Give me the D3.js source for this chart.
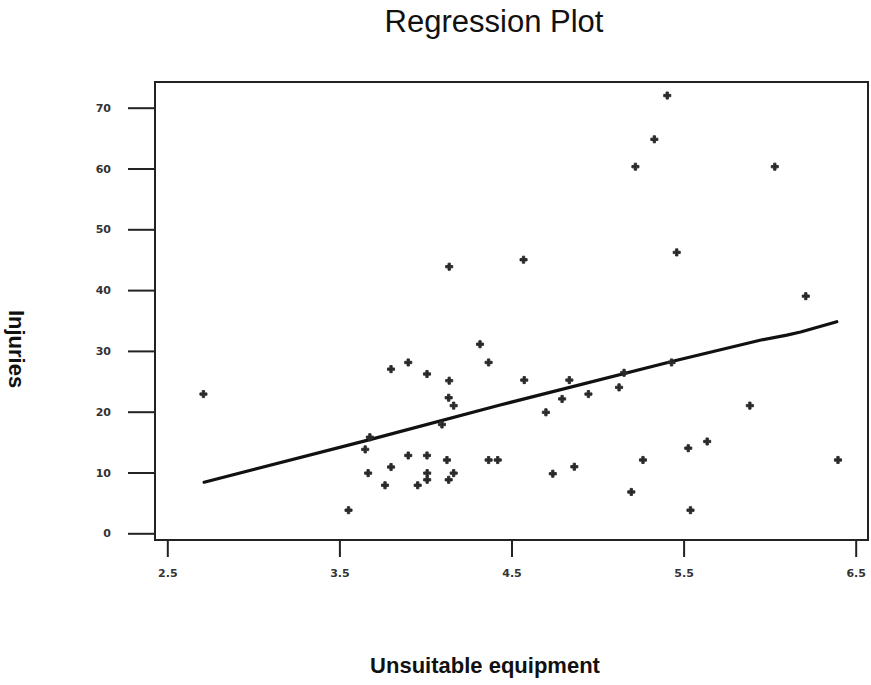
<!DOCTYPE html>
<html>
<head>
<meta charset="utf-8">
<script src="https://cdn.jsdelivr.net/npm/d3@7"></script>
<style>
  html, body { margin: 0; padding: 0; background: #fff; }
  svg { display: block; }
</style>
</head>
<body>
<svg id="chart" width="871" height="685"></svg>
<script>
// ---- data ----
const equipment = [2.71, 3.553, 3.65, 3.677, 3.667, 3.765, 3.80, 3.80, 3.90, 3.90, 3.955, 4.009, 4.009, 4.01, 4.01,
  4.096, 4.125, 4.135, 4.164, 4.138, 4.135, 4.164, 4.138, 4.317, 4.367, 4.367, 4.42, 4.574, 4.57, 4.70,
  4.74, 4.794, 4.836, 4.865, 4.947, 5.125, 5.154, 5.196, 5.22, 5.264, 5.33, 5.405, 5.43, 5.46, 5.527,
  5.54, 5.637, 5.885, 6.03, 6.21, 6.397];
const injuries = [22.9, 3.8, 13.8, 15.8, 9.9, 7.9, 10.9, 27.0, 28.1, 12.8, 7.9, 26.2, 12.8, 9.9, 8.8,
  17.9, 12.05, 8.8, 9.9, 25.1, 22.3, 21.0, 43.85, 31.1, 28.1, 12.05, 12.05, 25.2, 45.0, 19.9,
  9.8, 22.1, 25.2, 10.95, 22.9, 24.0, 26.4, 6.8, 60.3, 12.06, 64.8, 72.0, 28.1, 46.2, 14.0,
  3.8, 15.1, 21.0, 60.3, 39.0, 12.06];
const fitX = [2.714, 3.677, 4.434, 5.437, 5.95, 6.1, 6.18, 6.39];
const fitY = [8.4, 15.4, 21.1, 28.3, 31.8, 32.6, 33.1, 34.8];
const xTicks = [2.5, 3.5, 4.5, 5.5, 6.5];
const yTicks = [0, 10, 20, 30, 40, 50, 60, 70];
const xTickLabels = ["2.5", "3.5", "4.5", "5.5", "6.5"];
const yTickLabels = ["0", "10", "20", "30", "40", "50", "60", "70"];
const titleText = "Regression Plot";
const xLabel = "Unsuitable equipment";
const yLabel = "Injuries";

// ---- layout ----
const frame = { left: 155, right: 868, top: 82, bottom: 540 };
const svg = d3.select("#chart");

const x = d3.scaleLinear()
  .domain([2.5, 6.5])
  .range([167.3, 855.7]);
const y = d3.scaleLinear()
  .domain([0, 70])
  .range([533.3, 107.7]);

// frame
svg.append("rect")
  .attr("x", frame.left).attr("y", frame.top)
  .attr("width", frame.right - frame.left)
  .attr("height", frame.bottom - frame.top)
  .attr("fill", "none").attr("stroke", "#222").attr("stroke-width", 2);

// x axis
const xAxis = d3.axisBottom(x)
  .tickValues(xTicks)
  .tickFormat((d, i) => xTickLabels[i])
  .tickSize(16).tickPadding(12);
const gx = svg.append("g")
  .attr("transform", `translate(0,${frame.bottom + 1})`)
  .call(xAxis);
gx.select(".domain").remove();
gx.selectAll(".tick line").attr("stroke", "#222").attr("stroke-width", 2);
gx.selectAll(".tick text")
  .attr("font-family", "DejaVu Sans, sans-serif")
  .attr("font-weight", "bold")
  .attr("font-size", 11)
  .attr("fill", "#333");

// y axis
const yAxis = d3.axisLeft(y)
  .tickValues(yTicks)
  .tickFormat((d, i) => yTickLabels[i])
  .tickSize(27).tickPadding(17);
const gy = svg.append("g")
  .attr("transform", `translate(${frame.left},0)`)
  .call(yAxis);
gy.select(".domain").remove();
gy.selectAll(".tick line").attr("stroke", "#222").attr("stroke-width", 2);
gy.selectAll(".tick text")
  .attr("font-family", "DejaVu Sans, sans-serif")
  .attr("font-weight", "bold")
  .attr("font-size", 11)
  .attr("fill", "#333");

// regression line
const fit = fitX.map((d, i) => [d, fitY[i]]);
svg.append("path")
  .datum(fit)
  .attr("fill", "none")
  .attr("stroke", "#111")
  .attr("stroke-width", 3.2)
  .attr("stroke-linecap", "round")
  .attr("stroke-linejoin", "round")
  .attr("d", d3.line().x(d => x(d[0])).y(d => y(d[1])));

// points
const sym = d3.symbol().type(d3.symbolCross).size(28);
svg.append("g")
  .selectAll("path")
  .data(equipment.map((d, i) => [d, injuries[i]]))
  .join("path")
  .attr("transform", d => `translate(${x(d[0])},${y(d[1])})`)
  .attr("d", sym)
  .attr("fill", "#2a2a2a")
  .attr("stroke", "#2a2a2a")
  .attr("stroke-width", 0.9)
  .attr("stroke-linejoin", "round");

// title
svg.append("text")
  .attr("x", 494).attr("y", 32)
  .attr("text-anchor", "middle")
  .attr("font-family", "Liberation Sans, Arial, sans-serif")
  .attr("font-size", 31)
  .attr("fill", "#111")
  .text(titleText);

// x label
svg.append("text")
  .attr("x", 485).attr("y", 673)
  .attr("text-anchor", "middle")
  .attr("font-family", "Liberation Sans, Arial, sans-serif")
  .attr("font-weight", "bold")
  .attr("font-size", 22)
  .attr("fill", "#111")
  .text(xLabel);

// y label
svg.append("text")
  .attr("transform", "translate(9,349) rotate(90)")
  .attr("text-anchor", "middle")
  .attr("font-family", "Liberation Sans, Arial, sans-serif")
  .attr("font-weight", "bold")
  .attr("font-size", 22)
  .attr("fill", "#111")
  .text(yLabel);
</script>
</body>
</html>
